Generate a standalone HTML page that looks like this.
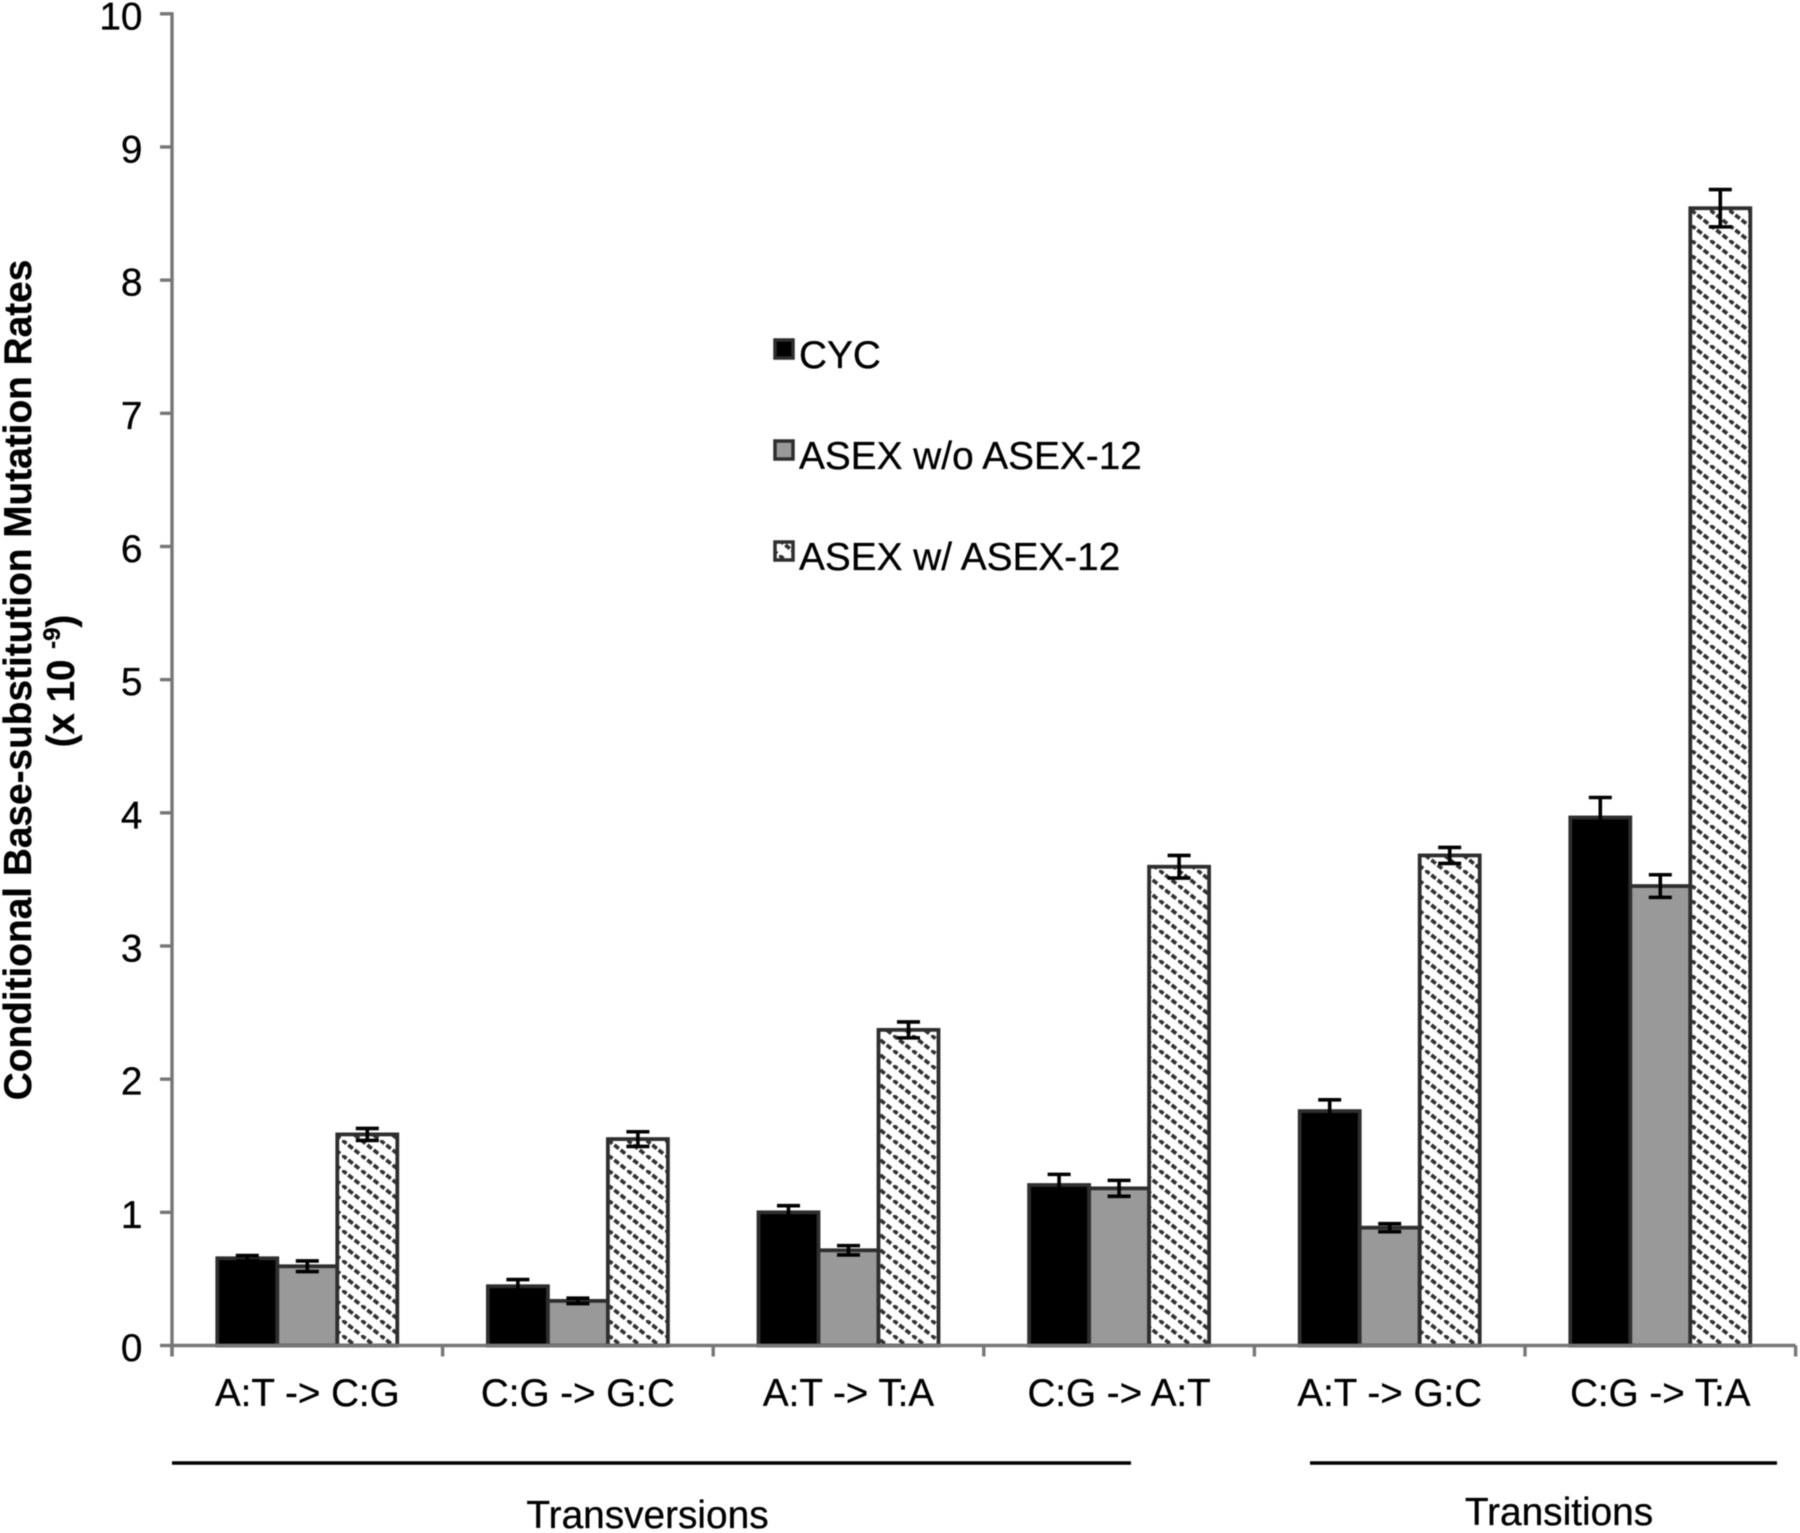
<!DOCTYPE html>
<html lang="en">
<head>
<meta charset="utf-8">
<title>Conditional base-substitution mutation rates</title>
<style>
html,body{margin:0;padding:0;background:#fff;width:1800px;height:1533px;overflow:hidden}
svg{display:block;filter:blur(0.45px)}
text{font-family:"Liberation Sans",Arial,sans-serif;fill:#000;stroke:#000;stroke-width:.3px}
</style>
</head>
<body>
<svg id="chart" xmlns="http://www.w3.org/2000/svg" width="1800" height="1533" viewBox="0 0 1800 1533">
  <defs>
    <pattern id="hatch" patternUnits="userSpaceOnUse" x="0" y="0" width="19" height="15">
      <rect width="19" height="15" fill="#fff"/>
      <line x1="-19" y1="-15" x2="38" y2="30" stroke="#333" stroke-width="3.7" stroke-dasharray="5.7 2.37"/>
    </pattern>
  </defs>
  <rect width="1800" height="1533" fill="#fff"/>
  <g id="bars"></g>
  <g id="errors"></g>
  <g id="axes"></g>

  <g>
    <text transform="translate(31,680) rotate(-90)" text-anchor="middle" font-size="38.8" font-weight="700">Conditional Base-substitution Mutation Rates</text>
    <text transform="translate(74,681) rotate(-90)" text-anchor="middle" font-size="38.5" font-weight="700">(x 10 <tspan font-size="24" dy="-14">-9</tspan><tspan dy="14">)</tspan></text>
  </g>

  <g>
    <g>
      <rect x="775" y="340" width="18" height="18" fill="#000" stroke="#2e2e2e" stroke-width="3.5"/>
      <text x="799" y="368" font-size="38.8">CYC</text>
    </g>
    <g>
      <rect x="775" y="441" width="18" height="18" fill="#999" stroke="#2e2e2e" stroke-width="3.5"/>
      <text x="799" y="469" font-size="38.8">ASEX w/o ASEX-12</text>
    </g>
    <g>
      <rect x="775" y="542" width="18" height="18" fill="url(#hatch)" stroke="#2e2e2e" stroke-width="3.5"/>
      <text x="799" y="570" font-size="38.8">ASEX w/ ASEX-12</text>
    </g>
  </g>

  <g>
    <line x1="172" y1="1463" x2="1131" y2="1463" stroke="#000" stroke-width="3.6"/>
    <line x1="1310" y1="1463" x2="1777" y2="1463" stroke="#000" stroke-width="3.6"/>
    <text x="647.5" y="1528" text-anchor="middle" font-size="38.8">Transversions</text>
    <text x="1559" y="1525" text-anchor="middle" font-size="38.8">Transitions</text>
  </g>
</svg>
<script>
// Chart data
const categories = ["A:T -> C:G", "C:G -> G:C", "A:T -> T:A", "C:G -> A:T", "A:T -> G:C", "C:G -> T:A"];
const cycValues = [0.655, 0.445, 1.0, 1.205, 1.76, 3.965];
const asexWithoutValues = [0.595, 0.335, 0.715, 1.18, 0.885, 3.45];
const asexWithValues = [1.585, 1.55, 2.37, 3.595, 3.68, 8.54];
const cycErrors = [0.02, 0.05, 0.05, 0.08, 0.085, 0.15];
const asexWithoutErrors = [0.04, 0.02, 0.035, 0.06, 0.03, 0.085];
const asexWithErrors = [0.045, 0.055, 0.06, 0.085, 0.06, 0.14];
const yTickLabels = ["0", "1", "2", "3", "4", "5", "6", "7", "8", "9", "10"];
const seriesNames = ["cyc", "asex-without", "asex-with"];

const NS = "http://www.w3.org/2000/svg";
const seriesValues = [cycValues, asexWithoutValues, asexWithValues];
const seriesErrors = [cycErrors, asexWithoutErrors, asexWithErrors];
const seriesFills = ["#000", "#999", "url(#hatch)"];

const plotLeft = 172, plotRight = 1795.6, plotBottom = 1345.5, plotTop = 13.8, yMax = 10;
const barWidth = 60;

function yScale(v) { return plotBottom - (v / yMax) * (plotBottom - plotTop); }
function bandLeft(i) { return plotLeft + i * (plotRight - plotLeft) / categories.length; }
function bandCenter(i) { return bandLeft(i) + (plotRight - plotLeft) / categories.length / 2; }
function barLeft(i, s) { return bandCenter(i) - barWidth * seriesValues.length / 2 + s * barWidth; }

function make(tag, attrs, parent, txt) {
  const el = document.createElementNS(NS, tag);
  for (const k in attrs) el.setAttribute(k, attrs[k]);
  if (txt !== undefined) el.textContent = txt;
  parent.appendChild(el);
  return el;
}

const barsG = document.getElementById("bars");
const errorsG = document.getElementById("errors");
const axesG = document.getElementById("axes");

seriesValues.forEach(function (vals, s) {
  vals.forEach(function (v, i) {
    const x = barLeft(i, s), y = yScale(v);
    const bar = make("rect", { x: x, y: y, width: barWidth, height: plotBottom - y, fill: seriesFills[s], stroke: "#2e2e2e", "stroke-width": 3.8 }, barsG);
    
    

    const e = seriesErrors[s][i];
    const cx = x + barWidth / 2, capHalf = 11.5;
    const hi = yScale(v + e), lo = yScale(v - e);
    const err = make("path", { d: "M" + (cx - capHalf) + " " + hi + "H" + (cx + capHalf) + "M" + cx + " " + hi + "V" + lo + "M" + (cx - capHalf) + " " + lo + "H" + (cx + capHalf), fill: "none", stroke: "#000", "stroke-width": 3.6 }, errorsG);
    
    
  });
});

const axisColor = "#777";
const yAxis = make("line", { x1: plotLeft, y1: plotTop - 1.5, x2: plotLeft, y2: plotBottom + 11, stroke: axisColor, "stroke-width": 3.4 }, axesG);



const xAxis = make("line", { x1: plotLeft, y1: plotBottom, x2: plotRight, y2: plotBottom, stroke: axisColor, "stroke-width": 3.4 }, axesG);



yTickLabels.forEach(function (label) {
  const v = Number(label), y = yScale(v);
  const tick = make("line", { x1: plotLeft - 12, y1: y, x2: plotLeft, y2: y, stroke: axisColor, "stroke-width": 3.4 }, axesG);
  
  
  const t = make("text", { x: 142.5, y: y + 15.5, "text-anchor": "end", "font-size": 38.8 }, axesG, label);
  
  
});

for (let i = 0; i <= categories.length; i++) {
  const x = bandLeft(i);
  const tick = make("line", { x1: x, y1: plotBottom, x2: x, y2: plotBottom + 11, stroke: axisColor, "stroke-width": 3.4 }, axesG);
  
  
}

categories.forEach(function (c, i) {
  const t = make("text", { x: bandCenter(i), y: 1406, "text-anchor": "middle", "font-size": 38.6 }, axesG, c);
  
  
});
</script>
</body>
</html>
